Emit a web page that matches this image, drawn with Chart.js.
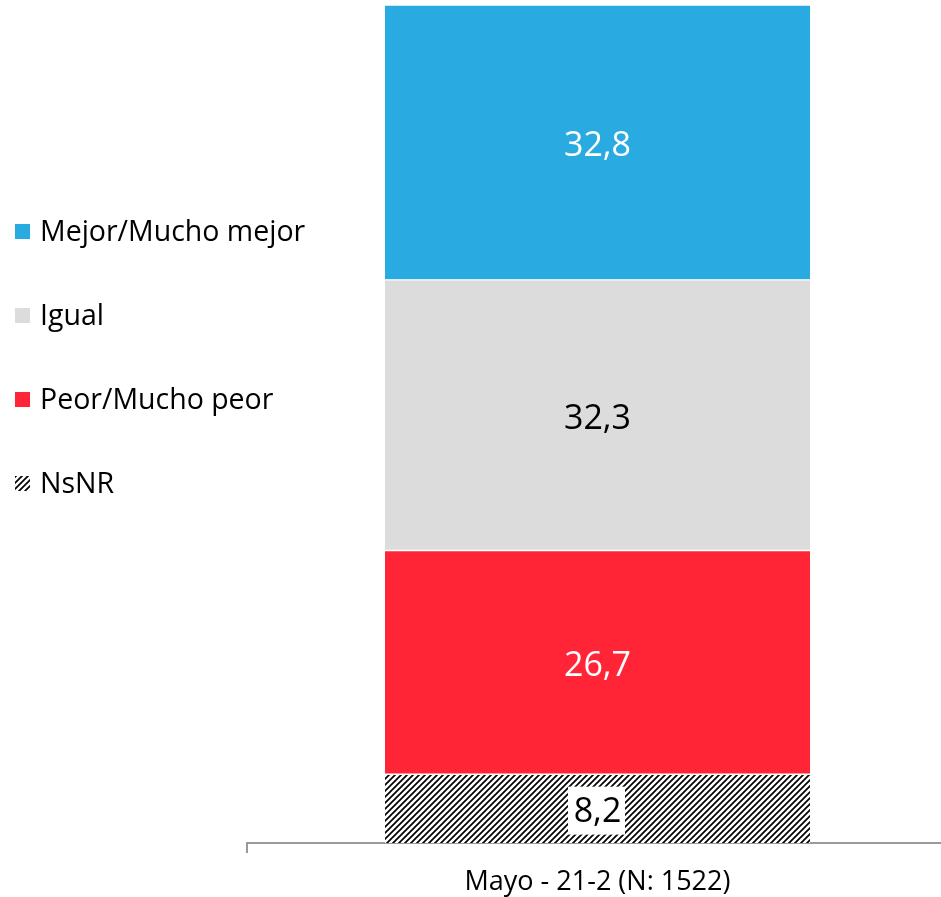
<!DOCTYPE html>
<html lang="es">
<head>
<meta charset="UTF-8">
<title>Mayo - 21-2</title>
<script src="https://cdn.jsdelivr.net/npm/chart.js"></script>
<style>
  html, body { margin: 0; padding: 0; background: #fff; overflow: hidden; }
  #wrap { width: 955px; height: 897px; }
</style>
</head>
<body>
<div id="wrap"><canvas id="chart" width="955" height="897"></canvas></div>
<script>
// datos (de abajo hacia arriba en la barra)
const categories = ['Mayo - 21-2 (N: 1522)'];
const seriesNames = ['NsNR', 'Peor/Mucho peor', 'Igual', 'Mejor/Mucho mejor'];
const nsnr = [8.2];
const peor = [26.7];
const igual = [32.3];
const mejor = [32.8];

const FONT = '"Open Sans", "DejaVu Sans", sans-serif';

// trama de rayas diagonales para NsNR
function hatch() {
  const c = document.createElement('canvas');
  c.width = 6; c.height = 6;
  const g = c.getContext('2d');
  g.fillStyle = '#fff';
  g.fillRect(0, 0, 6, 6);
  g.strokeStyle = '#000';
  g.lineWidth = 1.7;
  g.beginPath();
  g.moveTo(-1, 7); g.lineTo(7, -1);
  g.moveTo(-4, 4); g.lineTo(4, -4);
  g.moveTo(2, 10); g.lineTo(10, 2);
  g.stroke();
  return g.createPattern(c, 'repeat');
}
const hatchPat = hatch();

const colors = [hatchPat, '#FF2536', '#DCDCDC', '#29AAE1'];
const labelColors = ['#000', '#fff', '#000', '#fff'];
const values = [nsnr, peor, igual, mejor];

// etiquetas de valor dentro de cada segmento
const valueLabels = {
  id: 'valueLabels',
  afterDatasetsDraw(chart) {
    const ctx = chart.ctx;
    ctx.save();
    ctx.font = '34px ' + FONT;
    ctx.textAlign = 'center';
    ctx.textBaseline = 'middle';
    chart.data.datasets.forEach((ds, i) => {
      chart.getDatasetMeta(i).data.forEach((bar, j) => {
        const p = bar.getProps(['x', 'y', 'base'], true);
        const cy = (p.y + p.base) / 2;
        const txt = ds.data[j].toFixed(1).replace('.', ',');
        if (i === 0) {
          const w = 57;
          ctx.fillStyle = '#fff';
          ctx.fillRect(p.x - w / 2 - 1, cy - 22, w, 48);
        }
        ctx.fillStyle = labelColors[i];
        ctx.fillText(txt, p.x, cy + 4);
      });
    });
    ctx.restore();
  }
};

// leyenda a la izquierda
const sideLegend = {
  id: 'sideLegend',
  afterDraw(chart) {
    const ctx = chart.ctx;
    ctx.save();
    ctx.font = '28.5px ' + FONT;
    ctx.textBaseline = 'middle';
    const n = chart.data.datasets.length;
    for (let k = 0; k < n; k++) {
      const i = n - 1 - k;
      const y = 232 + k * 84;
      ctx.fillStyle = chart.data.datasets[i].backgroundColor;
      ctx.fillRect(15, y - 8, 15, 15);
      ctx.fillStyle = '#000';
      ctx.fillText(chart.data.datasets[i].label, 40, y + 1);
    }
    ctx.restore();
  }
};

new Chart(document.getElementById('chart'), {
  type: 'bar',
  data: {
    labels: categories,
    datasets: seriesNames.map((name, i) => ({
      label: name,
      data: values[i],
      backgroundColor: colors[i],
      borderColor: '#fff',
      borderWidth: { top: 1, bottom: i === 0 ? 0 : 1, left: 0, right: 0 },
      borderSkipped: false,
      barThickness: 425
    }))
  },
  options: {
    responsive: false,
    animation: false,
    layout: { padding: { top: 5, left: 247, right: 7, bottom: 0 } },
    plugins: { legend: { display: false }, tooltip: { enabled: false } },
    scales: {
      x: {
        stacked: true,
        afterFit(scale) { scale.height = 54; },
        grid: { drawOnChartArea: false, drawTicks: true, tickLength: 10, color: '#999', lineWidth: 2 },
        border: { color: '#9a9a9a', width: 2 },
        ticks: { color: '#000', font: { family: FONT, size: 27 }, padding: 13 }
      },
      y: {
        stacked: true,
        display: false,
        min: 0,
        max: 100
      }
    }
  },
  plugins: [valueLabels, sideLegend]
});
</script>
</body>
</html>
